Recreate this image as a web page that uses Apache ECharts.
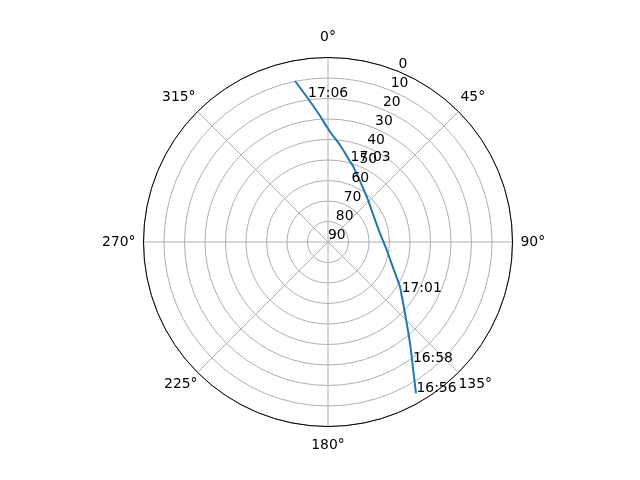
<!DOCTYPE html>
<html>
<head>
<meta charset="utf-8">
<script src="https://cdn.jsdelivr.net/npm/echarts@6/dist/echarts.min.js"></script>
<style>
html,body{margin:0;padding:0;background:#fff;}
#chart{width:640px;height:480px;}
</style>
</head>
<body>
<div id="chart"></div>
<script>
// Satellite track: azimuth (deg, clockwise from north) and elevation (deg)
const azimuth   = [149.82, 146.35, 145.10, 141.01, 132.80, 124.87, 121.83, 111.94, 97.76, 80.50, 59.20, 40.50, 18.57, 15.35, 7.05, 1.04, 355.69, 351.94, 348.42];
const elevation = [4.62, 14.99, 18.03, 26.43, 38.81, 46.48, 48.66, 55.66, 61.10, 64.28, 64.27, 60.94, 51.25, 49.28, 42.32, 36.19, 27.04, 19.05, 9.83];
const timeLabels = ['16:56', '', '16:58', '', '', '17:01', '', '', '', '', '', '', '', '17:03', '', '', '', '17:06', ''];
const angleTicks = [0, 45, 90, 135, 180, 225, 270, 315];
const radiusTicks = [0, 10, 20, 30, 40, 50, 60, 70, 80, 90];

const FONT = 'DejaVu Sans';
const FS = 13.9;

const trackData = azimuth.map((a, i) => [elevation[i], a]);
const annData = [];
timeLabels.forEach((t, i) => { if (t) annData.push({ value: [elevation[i], azimuth[i]], name: t }); });

const chart = echarts.init(document.getElementById('chart'), null, { renderer: 'canvas' });

const angleRich = {
  t: { fontFamily: FONT, fontSize: FS, color: '#000', padding: [0, 0, 13, 0] },
  b: { fontFamily: FONT, fontSize: FS, color: '#000', padding: [12, 0, 0, 0] },
  r: { fontFamily: FONT, fontSize: FS, color: '#000', padding: [0, 0, 0, 8] },
  l: { fontFamily: FONT, fontSize: FS, color: '#000', padding: [0, 8, 0, 0] },
  ut: { fontFamily: FONT, fontSize: FS, color: '#000', padding: [0, 0, 7, 2] },
  ul: { fontFamily: FONT, fontSize: FS, color: '#000', padding: [0, 2, 7, 0] },
  dt: { fontFamily: FONT, fontSize: FS, color: '#000', padding: [5, 0, 0, 0] },
  dl: { fontFamily: FONT, fontSize: FS, color: '#000', padding: [5, 0, 0, 0] }
};
const angleStyleKey = { 0: 't', 45: 'ut', 90: 'r', 135: 'dt', 180: 'b', 225: 'dl', 270: 'l', 315: 'ul' };

const option = {
  animation: false,
  backgroundColor: '#fff',
  polar: [
    { center: [328, 242], radius: 184.5 },
    { center: [328, 242], radius: 184.5 }
  ],
  angleAxis: [
    {
      polarIndex: 0,
      type: 'value', min: 0, max: 360, interval: 45,
      startAngle: 90, clockwise: true,
      axisLine: { show: true, lineStyle: { color: '#000', width: 1 } },
      axisTick: { show: false },
      splitLine: { show: true, lineStyle: { color: '#b0b0b0', width: 1 } },
      axisLabel: {
        show: true, margin: 0,
        formatter: v => angleTicks.indexOf(v) >= 0 ? '{' + angleStyleKey[v] + '|' + v + '°}' : '',
        rich: angleRich
      },
      z: 3
    },
    {
      polarIndex: 1,
      type: 'value', min: 0, max: 360, startAngle: 67.5, clockwise: true,
      show: false
    }
  ],
  radiusAxis: [
    {
      polarIndex: 0,
      type: 'value', min: 0, max: 90, interval: 10, inverse: true,
      axisLine: { show: false }, axisTick: { show: false }, axisLabel: { show: false },
      splitLine: { show: true, lineStyle: { color: '#b0b0b0', width: 1 } },
      z: 1
    },
    {
      polarIndex: 1,
      type: 'value', min: 0, max: 90, interval: 10, inverse: true,
      axisLine: { show: false }, axisTick: { show: false }, splitLine: { show: false },
      axisLabel: {
        show: true, margin: 0, align: 'left', verticalAlign: 'bottom',
        showMinLabel: true, showMaxLabel: true,
        fontFamily: FONT, fontSize: FS, color: '#000',
        formatter: v => radiusTicks.indexOf(v) >= 0 ? String(v) : ''
      },
      z: 5
    }
  ],
  series: [
    {
      type: 'line', coordinateSystem: 'polar', polarIndex: 0,
      data: trackData, showSymbol: false, symbol: 'none', smooth: 0.3,
      lineStyle: { color: '#1f77b4', width: 2 },
      z: 4
    },
    {
      type: 'scatter', coordinateSystem: 'polar', polarIndex: 0,
      data: annData, symbol: 'circle', symbolSize: 1,
      itemStyle: { color: 'rgba(0,0,0,0)', opacity: 1 },
      label: {
        show: true, position: [0, 0], align: 'left', verticalAlign: 'bottom',
        offset: [1, 3], opacity: 1,
        formatter: p => p.name,
        fontFamily: FONT, fontSize: FS, color: '#000'
      },
      z: 6
    }
  ]
};
chart.setOption(option);
</script>
</body>
</html>
